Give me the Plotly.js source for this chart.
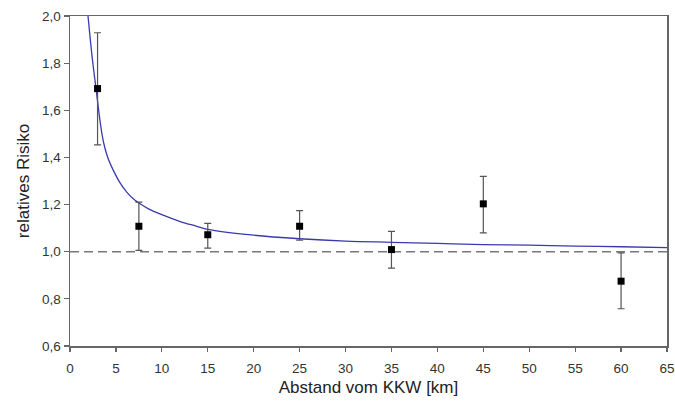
<!DOCTYPE html>
<html>
<head>
<meta charset="utf-8">
<script src="https://cdn.plot.ly/plotly-3.0.1.min.js"></script>
<style>html,body{margin:0;padding:0;background:#fff}#chart{width:675px;height:410px}</style>
</head>
<body>
<div id="chart"></div>
<script>
// Observed relative risk by distance (km)
const distance = [3, 7.5, 15, 25, 35, 45, 60];
const risk     = [1.692, 1.108, 1.072, 1.108, 1.009, 1.203, 0.875];
const ciUpper  = [1.929, 1.21, 1.12, 1.174, 1.086, 1.32, 0.995];
const ciLower  = [1.453, 1.006, 1.015, 1.049, 0.93, 1.08, 0.758];

// Fitted curve
const curveX = [1.96, 2.4, 2.87, 3.2, 3.5, 3.8, 4.2, 4.72, 5.45, 6.2, 7.08, 7.5, 8.5, 10, 12, 13.8, 15, 20, 25, 30, 35, 40, 45, 50, 55, 60, 65];
const curveY = [2.0, 1.83, 1.68, 1.575, 1.495, 1.44, 1.39, 1.345, 1.292, 1.252, 1.218, 1.207, 1.183, 1.157, 1.128, 1.108, 1.095, 1.07, 1.055, 1.045, 1.04, 1.035, 1.03, 1.028, 1.024, 1.021, 1.017];

const refLevel = 1.0;
const xTicks = [0,5,10,15,20,25,30,35,40,45,50,55,60,65];
const yTicks = [0.6,0.8,1.0,1.2,1.4,1.6,1.8,2.0];
const yTickText = ['0,6','0,8','1,0','1,2','1,4','1,6','1,8','2,0'];

const errPlus = risk.map((v,i)=>ciUpper[i]-v);
const errMinus = risk.map((v,i)=>v-ciLower[i]);

const traces = [
  {
    x: curveX, y: curveY, type: 'scatter', mode: 'lines',
    line: {color: '#3a3ab0', width: 1.3, shape: 'spline', smoothing: 1},
    hoverinfo: 'skip', cliponaxis: true
  },
  {
    x: distance, y: risk, type: 'scatter', mode: 'markers',
    marker: {symbol: 'square', size: 7, color: '#000'},
    error_y: {type: 'data', symmetric: false, array: errPlus, arrayminus: errMinus,
              color: '#555', thickness: 1.2, width: 3.5}
  }
];

const layout = {
  width: 675, height: 410,
  margin: {l: 70, r: 8, t: 16, b: 64},
  paper_bgcolor: '#fff', plot_bgcolor: '#fff',
  showlegend: false,
  font: {family: 'Liberation Sans, Arial, sans-serif', color: '#333'},
  xaxis: {
    range: [0, 65], tickvals: xTicks, ticks: 'outside', ticklen: 4, tickwidth: 1.2, tickcolor: '#666',
    showline: true, linecolor: '#666', linewidth: 1.5, mirror: true, showgrid: false, zeroline: false,
    tickfont: {size: 13.5, color: '#333'}, ticklabelstandoff: 5,
    title: {text: 'Abstand vom KKW [km]', font: {size: 17, color: '#222'}, standoff: 6}
  },
  yaxis: {
    range: [0.6, 2.0], tickvals: yTicks, ticktext: yTickText, ticks: 'outside', ticklen: 5, tickwidth: 1.2, tickcolor: '#666',
    showline: true, linecolor: '#666', linewidth: 1.5, mirror: true, showgrid: false, zeroline: false,
    tickfont: {size: 13.5, color: '#333'},
    title: {text: 'relatives Risiko', font: {size: 17, color: '#222'}, standoff: 8}
  },
  shapes: [
    {type: 'line', xref: 'paper', x0: 0, x1: 1, yref: 'y', y0: refLevel, y1: refLevel,
     line: {color: '#777', width: 1.5, dash: '9px,5px'}, layer: 'below'}
  ]
};

Plotly.newPlot('chart', traces, layout, {displayModeBar: false, staticPlot: true});
</script>
</body>
</html>
